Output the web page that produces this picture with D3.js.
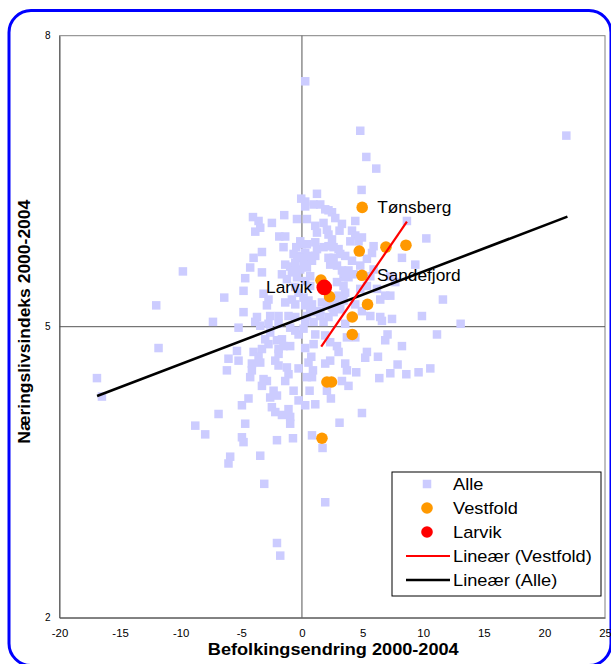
<!DOCTYPE html>
<html>
<head>
<meta charset="utf-8">
<script src="https://cdn.jsdelivr.net/npm/d3@7"></script>
<style>
  html, body { margin: 0; padding: 0; background: #fff; }
  svg { display: block; font-family: "Liberation Sans", Arial, sans-serif; }
</style>
</head>
<body>
<svg id="chart" width="611" height="664"></svg>
<script>
// ---------------- DATA ----------------
const xTicks = [-20, -15, -10, -5, 0, 5, 10, 15, 20, 25];
const yTicks = [2, 5, 8];

// "Alle" (all municipalities)
const alleX = [0.27,21.81,4.81,5.31,6.13,-9.82,-12.02,-16.91,-16.50,-11.83,-2.06,-1.79,1.92,-3.11,13.09,11.63,10.26,9.35,8.25,8.66,
  9.90,11.14,10.59,9.62,8.61,7.89,7.29,8.25,7.06,6.87,6.60,5.64,6.27,6.38,5.36,5.22,4.48,4.95,3.10,1.70,
  0.83,3.57,3.71,3.30,3.84,2.33,1.92,2.89,3.02,2.33,0.96,0.27,0.77,1.92,3.71,4.40,0.91,0.83,0.41,2.06,
  2.39,0.63,0.27,1.10,-0.28,-0.69,0.27,0.96,1.78,2.61,3.57,-7.34,-5.23,-3.85,-3.44,-2.76,-1.93,-2.62,-0.97,-0.55,
  -0.28,0.13,1.10,-3.03,-2.76,-3.30,-2.06,-1.65,-1.52,-1.93,-1.93,-0.97,-5.36,-6.06,-5.23,-6.19,-3.99,-3.58,-4.13,-3.44,
  -4.13,-4.27,-2.20,-1.93,-1.24,-1.11,-1.38,-0.28,0.54,-3.17,-2.89,-3.30,-2.34,-2.62,-2.06,-4.41,-4.95,-2.48,-2.20,-1.65,
  -1.11,-0.97,-0.97,-6.88,-8.80,-7.98,-4.68,-4.95,-4.82,-2.06,-0.74,-5.92,-6.06,-3.44,
  -0.06,1.24,1.51,0.27,0.27,0.96,1.92,-4.04,-3.58,-3.85,-3.44,-2.48,-1.46,-0.41,1.10,1.24,1.78,2.06,-1.87,-1.38,
  0.00,-1.52,-3.30,-3.99,0.27,0.54,0.27,1.10,1.78,-1.38,-0.97,-0.55,-0.14,-0.83,-4.27,-3.30,-4.68,-1.65,-1.24,0.41,
  0.68,-4.82,-6.41,-3.17,-2.76,-2.89,-0.28,0.13,0.54,0.83,0.27,-0.83,-1.38,-0.55,-4.82,-3.71,-2.62,-1.93,-1.11,-0.55,
  0.41,0.96,1.51,-0.47,-0.39,
  2.19,2.48,2.75,0.41,3.30,3.10,4.40,4.13,4.40,3.99,4.67,4.95,2.19,2.48,2.19,2.61,3.02,-0.14,0.41,1.10,
  1.24,-0.69,-0.14,0.83,0.13,5.91,5.78,5.36,2.19,2.61,3.16,3.57,2.33,2.89,4.13,4.81,3.84,3.30,4.26,3.84,
  3.43,5.91,5.64,7.29,7.70,-0.41,-0.41,0.27,0.68,-0.55,2.89,3.43,3.57,3.02,2.75,5.36,4.81,6.19,6.87,7.29,
  6.46,1.65,2.06,2.48,0.68,1.51,2.19,3.16,6.46,7.43,4.40,4.95,3.43,4.92];
const alleY = [7.53,6.97,7.02,6.75,6.63,5.57,5.22,4.47,4.28,4.78,2.77,2.64,3.19,3.38,5.03,5.28,5.91,5.64,5.71,6.09,
  5.11,4.92,4.57,4.53,4.51,4.61,4.52,4.80,4.92,4.86,5.06,5.11,4.69,4.47,4.74,4.68,4.53,4.11,4.01,3.75,
  3.88,4.62,4.55,4.44,4.39,4.65,4.62,4.80,4.74,4.84,4.82,4.78,4.69,4.91,4.89,4.89,4.55,4.48,4.48,4.34,
  4.26,4.34,4.19,4.20,4.24,4.34,5.05,5.05,5.05,5.15,5.03,5.05,4.99,5.05,5.01,5.03,5.03,4.94,4.99,4.96,
  4.92,4.98,4.92,4.87,4.82,4.77,4.86,4.87,4.80,4.77,4.72,4.80,4.75,4.67,4.65,4.55,4.74,4.69,4.62,4.63,
  4.55,4.48,4.65,4.60,4.58,4.51,4.44,4.57,4.63,4.46,4.44,4.39,4.34,4.27,4.29,4.26,4.19,4.17,4.12,4.09,
  4.15,4.07,4.00,4.10,3.98,3.89,4.00,3.86,3.81,3.83,3.85,3.66,3.59,3.67,
  6.32,6.37,6.26,6.29,6.24,6.26,6.21,6.13,6.09,5.98,6.02,6.07,6.15,6.11,6.04,5.97,6.07,6.00,5.93,5.93,
  5.85,5.82,5.77,5.71,5.76,5.73,5.68,5.73,5.82,5.64,5.62,5.66,5.59,5.56,5.61,5.56,5.50,5.54,5.49,5.61,
  5.52,5.37,5.30,5.34,5.28,5.22,5.35,5.30,5.27,5.23,5.22,5.28,5.25,5.23,5.15,5.10,5.11,5.11,5.11,5.10,
  5.11,5.15,5.11,5.82,5.73,
  6.20,6.18,6.12,6.11,6.06,5.99,6.09,5.99,5.94,5.88,5.88,5.92,5.95,5.90,5.83,5.82,5.80,5.88,5.85,5.87,
  5.80,5.75,5.71,5.68,5.64,5.83,5.76,5.70,5.71,5.71,5.75,5.73,5.64,5.63,5.68,5.63,5.58,5.58,5.54,5.51,
  5.51,5.59,5.52,5.52,5.46,5.58,5.51,5.47,5.42,5.41,5.46,5.42,5.35,5.32,5.28,5.42,5.39,5.39,5.32,5.32,
  5.28,5.25,5.23,5.20,5.16,5.16,5.10,5.18,5.10,5.08,5.23,5.16,5.27,6.41];

// Vestfold municipalities
const vestfoldX = [4.97, 4.73, 6.93, 8.58, 4.95, 1.57, 2.28, 5.41, 4.15, 4.15, 2.06, 2.44, 1.65];
const vestfoldY = [6.23, 5.78, 5.82, 5.84, 5.53, 5.48, 5.31, 5.23, 5.10, 4.92, 4.43, 4.43, 3.85];

// Larvik
const larvikX = [1.84];
const larvikY = [5.405];

// Point labels
const labelNames = ["Tønsberg", "Sandefjord", "Larvik"];
const labelX = [4.97, 4.95, 1.84];
const labelY = [6.23, 5.53, 5.405];
const labelSide = ["right", "right", "left"];

// Linear trend lines (endpoints)
const trendVestfoldX = [1.59, 8.66];
const trendVestfoldY = [4.794, 6.083];
const trendAlleX = [-16.9, 21.9];
const trendAlleY = [4.285, 6.135];

const legendLabels = ["Alle", "Vestfold", "Larvik", "Lineær (Vestfold)", "Lineær (Alle)"];
const xTitle = "Befolkingsendring 2000-2004";
const yTitle = "Næringslivsindeks 2000-2004";

// ---------------- DRAWING ----------------
const svg = d3.select("#chart");
const SX = 1.14; // horizontal stretch of text as in the reference

// outer blue rounded border
svg.append("rect")
  .attr("x", 9).attr("y", 10.5).attr("width", 602).attr("height", 655)
  .attr("rx", 22).attr("ry", 22)
  .attr("fill", "#fff").attr("stroke", "#0000ff").attr("stroke-width", 3);

const x = d3.scaleLinear().domain([-20, 25]).range([59.5, 605]);
const y = d3.scaleLinear().domain([2, 8]).range([617.7, 35.7]);

// plot frame
svg.append("rect")
  .attr("x", x(-20)).attr("y", y(8))
  .attr("width", x(25) - x(-20)).attr("height", y(2) - y(8))
  .attr("fill", "#fff").attr("stroke", "#808080").attr("stroke-width", 1);

// axes crossing lines at x=0 and y=5
svg.append("line")
  .attr("x1", x(0)).attr("x2", x(0)).attr("y1", y(8)).attr("y2", y(2))
  .attr("stroke", "#555").attr("stroke-width", 1);
svg.append("line")
  .attr("x1", x(-20)).attr("x2", x(25)).attr("y1", y(5)).attr("y2", y(5))
  .attr("stroke", "#555").attr("stroke-width", 1);

// bottom axis
const gx = svg.append("g")
  .attr("transform", `translate(0,${y(2)})`)
  .call(d3.axisBottom(x).tickValues(xTicks).tickSize(0).tickPadding(12).tickFormat(d => String(d)));
gx.select(".domain").attr("stroke", "#555");
gx.selectAll("text").attr("font-size", 10).attr("fill", "#000")
  .attr("font-family", "Liberation Sans, Arial, sans-serif")
  .attr("transform", `scale(${SX},1)`);

// left axis
const gy = svg.append("g")
  .attr("transform", `translate(${x(-20)},0)`)
  .call(d3.axisLeft(y).tickValues(yTicks).tickSize(0).tickPadding(9).tickFormat(d => String(d)));
gy.select(".domain").attr("stroke", "#555");
gy.selectAll("text").attr("font-size", 10).attr("fill", "#000")
  .attr("font-family", "Liberation Sans, Arial, sans-serif");

// Alle squares
const alle = alleX.map((v, i) => ({ x: v, y: alleY[i] }));
const SQ = 8.5;
svg.append("g").selectAll("rect")
  .data(alle).join("rect")
  .attr("x", d => x(d.x) - SQ / 2).attr("y", d => y(d.y) - SQ / 2)
  .attr("width", SQ).attr("height", SQ)
  .attr("fill", "#ccccff");

// Vestfold circles
const vest = vestfoldX.map((v, i) => ({ x: v, y: vestfoldY[i] }));
svg.append("g").selectAll("circle")
  .data(vest).join("circle")
  .attr("cx", d => x(d.x)).attr("cy", d => y(d.y)).attr("r", 5.8)
  .attr("fill", "#ff9900");

// Larvik
const lar = larvikX.map((v, i) => ({ x: v, y: larvikY[i] }));
svg.append("g").selectAll("circle")
  .data(lar).join("circle")
  .attr("cx", d => x(d.x)).attr("cy", d => y(d.y)).attr("r", 7.8)
  .attr("fill", "#ff0000");

// point labels
const labs = labelNames.map((n, i) => ({ n, x: labelX[i], y: labelY[i], side: labelSide[i] }));
svg.append("g").selectAll("text")
  .data(labs).join("text")
  .attr("transform", d => `translate(${x(d.x) + (d.side === "right" ? 15 : -12)},${y(d.y)}) scale(1.05,1)`)
  .attr("text-anchor", d => d.side === "right" ? "start" : "end")
  .attr("dy", "0.35em")
  .attr("font-size", 16.5)
  .attr("fill", "#000")
  .text(d => d.n);

// trend lines
const line = d3.line().x(d => x(d[0])).y(d => y(d[1]));
svg.append("path")
  .datum(trendAlleX.map((v, i) => [v, trendAlleY[i]]))
  .attr("d", line).attr("fill", "none").attr("stroke", "#000").attr("stroke-width", 2.6);
svg.append("path")
  .datum(trendVestfoldX.map((v, i) => [v, trendVestfoldY[i]]))
  .attr("d", line).attr("fill", "none").attr("stroke", "#ff0000").attr("stroke-width", 2.2);

// legend
const lg = svg.append("g");
lg.append("rect")
  .attr("x", 392).attr("y", 472).attr("width", 209).attr("height", 124)
  .attr("fill", "#fff").attr("stroke", "#000").attr("stroke-width", 1);
const ly = i => 484 + i * 24;
lg.append("rect").attr("x", 427 - 4.25).attr("y", ly(0) - 4.25).attr("width", 8.5).attr("height", 8.5).attr("fill", "#ccccff");
lg.append("circle").attr("cx", 427).attr("cy", ly(1)).attr("r", 5.8).attr("fill", "#ff9900");
lg.append("circle").attr("cx", 427).attr("cy", ly(2)).attr("r", 5.8).attr("fill", "#ff0000");
lg.append("line").attr("x1", 406).attr("x2", 450).attr("y1", ly(3)).attr("y2", ly(3))
  .attr("stroke", "#ff0000").attr("stroke-width", 2.2);
lg.append("line").attr("x1", 406).attr("x2", 450).attr("y1", ly(4)).attr("y2", ly(4))
  .attr("stroke", "#000").attr("stroke-width", 2.6);
lg.selectAll("text.leg")
  .data(legendLabels).join("text")
  .attr("class", "leg")
  .attr("transform", (d, i) => `translate(453,${ly(i)}) scale(${SX},1)`)
  .attr("dy", "0.36em")
  .attr("font-size", 16)
  .attr("fill", "#000")
  .text(d => d);

// axis titles
svg.append("text")
  .attr("transform", `translate(${(x(-20) + x(25)) / 2 + 1},${655}) scale(1.08,1)`)
  .attr("text-anchor", "middle")
  .attr("font-size", 16.8).attr("font-weight", "bold").attr("fill", "#000")
  .text(xTitle);
svg.append("text")
  .attr("transform", `translate(24,${(y(2) + y(8)) / 2 - 5}) rotate(-90) scale(1.06,1)`)
  .attr("text-anchor", "middle")
  .attr("dy", "0.35em")
  .attr("font-size", 16.5).attr("font-weight", "bold").attr("fill", "#000")
  .text(yTitle);
</script>
</body>
</html>
